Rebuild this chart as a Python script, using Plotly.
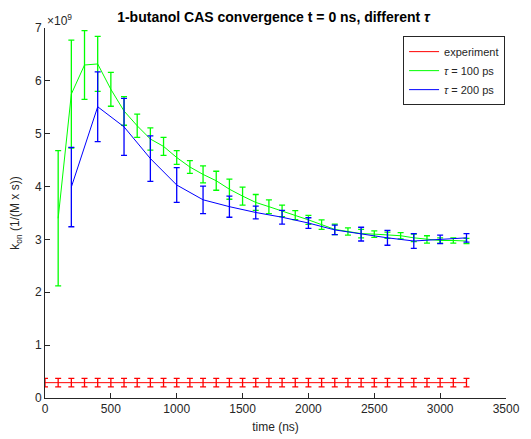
import plotly.graph_objects as go

# k_on values in units of 1e9 1/(M x s)
exp_t = list(range(0, 3300, 100))
exp_k = [0.29] * len(exp_t)
exp_err = [0.08] * len(exp_t)

tau100_t = list(range(100, 3300, 100))
tau100_k = [3.40, 5.75, 6.30, 6.32, 5.84, 5.43, 5.15, 4.90, 4.76, 4.55,
            4.37, 4.23, 4.11, 3.95, 3.82, 3.70, 3.62, 3.54, 3.46, 3.37,
            3.28, 3.19, 3.15, 3.11, 3.10, 3.08, 3.07, 3.03, 3.00, 2.98,
            2.98, 2.97]
tau100_err = [1.28, 1.02, 0.65, 0.52, 0.32, 0.27, 0.22, 0.21, 0.17, 0.13,
              0.12, 0.16, 0.18, 0.19, 0.17, 0.15, 0.13, 0.11, 0.085, 0.085,
              0.09, 0.10, 0.07, 0.08, 0.06, 0.06, 0.06, 0.07, 0.07, 0.05,
              0.05, 0.05]

tau200_t = list(range(200, 3300, 200))
tau200_k = [3.99, 5.51, 5.13, 4.53, 4.03, 3.75, 3.62, 3.51, 3.42, 3.31,
            3.18, 3.10, 3.03, 2.97, 3.00, 3.03]
tau200_err = [0.75, 0.66, 0.54, 0.43, 0.33, 0.26, 0.20, 0.12, 0.13, 0.10,
              0.09, 0.13, 0.14, 0.14, 0.08, 0.08]

AX = '#262626'
FONT = 'Liberation Sans, Arial, sans-serif'

fig = go.Figure()


def add_series(x, y, err, color, name):
  fig.add_trace(go.Scatter(
    x=x, y=y, mode='lines', name=name,
    line=dict(color=color, width=1),
    error_y=dict(type='data', array=err, visible=True,
                 color=color, thickness=1.3, width=3),
  ))


add_series(exp_t, exp_k, exp_err, '#ff0000', 'experiment')
add_series(tau100_t, tau100_k, tau100_err, '#00ff00', '<i>τ</i> = 100 ps')
add_series(tau200_t, tau200_k, tau200_err, '#0000ff', '<i>τ</i> = 200 ps')

# the page body adds an 8px offset, margins compensate for it
fig.update_layout(
  width=531, height=439,
  margin=dict(l=37, r=33, t=20, b=49),
  paper_bgcolor='white', plot_bgcolor='white',
  font=dict(family=FONT, size=12, color=AX),
  title=dict(text='<b>1-butanol CAS convergence t = 0 ns, different <i>τ</i></b>',
             x=0.5, xanchor='center', y=0.979, yanchor='middle',
             font=dict(size=14, color='black')),
  showlegend=True,
  legend=dict(x=0.998, xanchor='right', y=0.978, yanchor='top',
              bordercolor=AX, borderwidth=1, bgcolor='white',
              font=dict(size=11, color=AX), tracegroupgap=0,
              itemwidth=30),
  xaxis=dict(range=[0, 3500], dtick=500, tick0=0, showgrid=False,
             zeroline=False, showline=True, linecolor=AX, linewidth=1,
             ticks='inside', ticklen=5, tickcolor=AX, automargin=False,
             title=dict(text='time (ns)', standoff=7, font=dict(size=12))),
  yaxis=dict(range=[0, 7], dtick=1, tick0=0, showgrid=False,
             zeroline=False, showline=True, linecolor=AX, linewidth=1,
             ticks='inside', ticklen=5, tickcolor=AX, automargin=False,
             title=dict(text='k<sub>on</sub> (1/(M x s))', standoff=14,
                        font=dict(size=12))),
  annotations=[dict(text='×10<sup>9</sup>', xref='paper', yref='paper',
                    x=0, y=1, xanchor='left', yanchor='bottom', yshift=-2,
                    showarrow=False, font=dict(size=12, color=AX))],
)

fig.write_html('out.html')
